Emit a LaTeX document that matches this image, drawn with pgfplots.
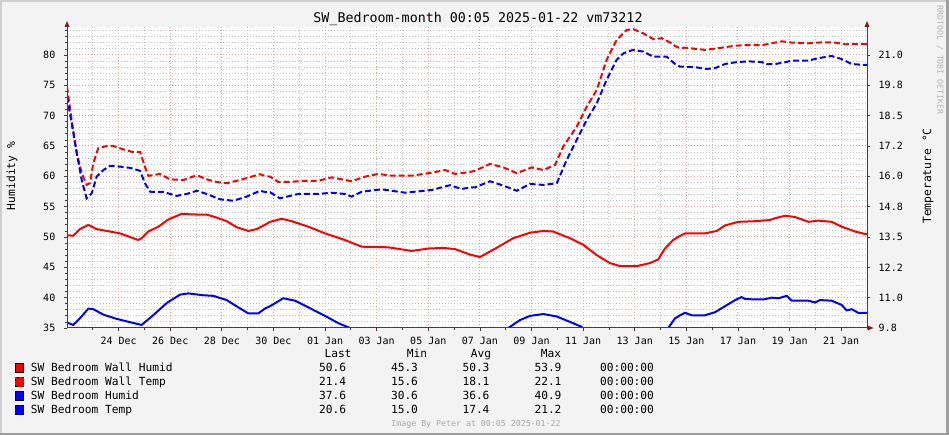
\documentclass[border=0pt]{standalone}
\usepackage{fontspec}
\setmainfont{DejaVu Sans Mono}
\setmonofont{DejaVu Sans Mono}
\usepackage{pgfplots}
\pgfplotsset{compat=1.18}
\definecolor{bgc}{HTML}{F3F3F3}
\definecolor{shadea}{HTML}{CFCFCF}
\definecolor{shadeb}{HTML}{9E9E9E}
\definecolor{mgrid}{HTML}{F0A0A0}
\definecolor{ngrid}{HTML}{C4C4C4}
\definecolor{axisc}{HTML}{404040}
\definecolor{arrowc}{HTML}{7F1F1F}
\definecolor{faint}{HTML}{A8A8A8}
\newcommand{\lgfont}{\fontsize{8.4}{10}\selectfont}
\newcommand{\tkfont}{\fontsize{7.5}{9}\selectfont}

\pgfplotstableread{
d h
0 50.3
0.24 50.2
0.50 51.3
0.83 52.0
1.15 51.3
1.54 51.0
2.05 50.6
2.44 50.0
2.76 49.5
2.89 49.8
3.15 50.9
3.54 51.7
3.93 52.9
4.44 53.8
5.03 53.7
5.41 53.7
5.80 53.2
6.19 52.6
6.58 51.6
7.03 51.0
7.35 51.3
7.67 52.0
7.87 52.5
8.32 53.0
8.71 52.6
9.35 51.7
10.00 50.6
10.77 49.5
11.42 48.4
12.45 48.3
13.36 47.7
14.00 48.1
14.58 48.2
15.04 48.0
15.62 47.1
15.81 46.9
16.00 46.7
16.52 47.9
17.29 49.8
17.94 50.7
18.46 51.0
18.84 50.9
19.49 49.8
20.01 48.7
20.53 47.0
21.04 45.7
21.43 45.2
22.08 45.2
22.59 45.7
22.91 46.3
23.17 48.1
23.49 49.5
23.76 50.2
23.95 50.6
24.34 50.6
24.72 50.6
25.18 51.0
25.50 51.9
26.01 52.5
26.66 52.6
27.24 52.8
27.44 53.1
27.82 53.5
28.21 53.3
28.73 52.5
29.11 52.7
29.63 52.5
30.02 51.7
30.54 50.9
30.92 50.5
31 50.5
}\wallhumid

\pgfplotstableread{
d h
0 35.9
0.24 35.5
0.50 36.6
0.83 38.2
1.02 38.1
1.41 37.2
1.93 36.5
2.31 36.1
2.89 35.5
3.34 37.1
3.86 39.1
4.38 40.5
4.70 40.7
5.28 40.4
5.67 40.3
6.19 39.6
6.64 38.4
7.03 37.4
7.41 37.4
7.67 38.2
7.87 38.6
8.38 39.9
8.84 39.5
9.35 38.4
10.00 37.0
10.51 35.8
10.97 35.0
11.5 34.2
12.5 33.9
13.4 33.4
14.0 33.6
15.0 33.4
15.8 32.6
16.0 32.4
16.5 33.5
17.10 35.0
17.55 36.3
17.94 37.0
18.46 37.3
18.98 36.9
19.49 36.0
19.94 35.2
20.5 32.4
21.0 31.1
21.5 30.6
22.0 30.6
22.6 31.1
22.9 31.7
23.17 33.6
23.30 35.0
23.56 36.6
23.76 37.1
23.95 37.5
24.21 37.1
24.72 37.1
25.11 37.6
25.50 38.6
25.89 39.6
26.14 40.1
26.27 39.8
26.66 39.7
26.98 39.7
27.31 40.0
27.57 39.9
27.89 40.3
28.08 39.5
28.73 39.5
28.99 39.2
29.18 39.6
29.63 39.5
30.02 38.8
30.21 37.9
30.41 38.1
30.66 37.5
30.92 37.5
31 37.5
}\humid

\pgfplotstableread{
d t
0 19.70
0.18 18.34
0.38 16.97
0.57 16.15
0.76 15.67
0.89 15.74
1.02 16.56
1.21 17.17
1.54 17.27
1.79 17.27
2.18 17.13
2.51 17.03
2.83 17.03
3.02 16.42
3.15 16.04
3.60 16.12
3.99 15.90
4.51 15.87
5.03 16.07
5.41 15.90
5.80 15.79
6.19 15.74
6.70 15.87
7.48 16.11
7.67 16.04
7.87 16.01
8.19 15.79
8.58 15.79
9.22 15.84
9.74 15.84
10.26 15.98
11.03 15.82
11.55 16.01
12.06 16.12
12.58 16.05
13.36 16.05
14.13 16.17
14.65 16.28
15.04 16.12
15.62 16.20
15.81 16.25
16.39 16.53
16.91 16.39
17.43 16.15
18.01 16.39
18.46 16.28
18.91 16.49
19.23 17.24
19.75 18.06
20.14 18.88
20.53 19.57
20.91 20.80
21.30 21.62
21.69 22.03
21.94 22.06
22.33 21.89
22.72 21.65
23.05 21.69
23.43 21.48
23.56 21.37
23.76 21.28
23.95 21.30
24.72 21.21
25.24 21.28
25.89 21.38
26.40 21.41
26.92 21.40
27.44 21.51
27.70 21.56
28.08 21.51
28.73 21.48
29.25 21.52
29.76 21.51
30.15 21.44
30.92 21.45
31 21.45
}\walltemp

\pgfplotstableread{
d t
0 19.29
0.18 18.20
0.38 16.97
0.57 15.87
0.76 15.12
0.96 15.33
1.15 16.01
1.41 16.28
1.67 16.45
2.05 16.42
2.44 16.37
2.83 16.25
3.02 15.74
3.22 15.39
3.73 15.38
4.25 15.22
4.64 15.30
5.03 15.43
5.41 15.30
5.93 15.08
6.44 15.02
6.96 15.19
7.48 15.43
7.67 15.38
7.87 15.37
8.25 15.12
8.96 15.30
9.74 15.30
10.26 15.35
10.77 15.30
11.03 15.19
11.42 15.39
12.19 15.49
13.10 15.35
14.13 15.46
14.84 15.66
15.29 15.50
15.62 15.57
15.81 15.57
16.39 15.82
16.91 15.64
17.43 15.43
17.94 15.71
18.46 15.67
18.98 15.74
19.36 16.69
19.75 17.51
20.14 18.34
20.53 19.02
20.91 19.98
21.30 20.80
21.56 21.07
21.94 21.21
22.33 21.14
22.72 20.93
23.24 20.93
23.56 20.63
23.76 20.52
23.95 20.52
24.34 20.50
24.79 20.43
25.11 20.46
25.50 20.63
25.89 20.70
26.40 20.74
26.92 20.71
27.11 20.63
27.44 20.63
27.82 20.70
28.08 20.77
28.73 20.77
29.11 20.87
29.63 20.96
30.02 20.83
30.41 20.63
30.92 20.59
31 20.59
}\temp

\begin{document}
\begin{tikzpicture}
\begin{scope}[x=0.75pt,y=0.75pt]
\path[use as bounding box] (0,0) rectangle (949,435);
\fill[bgc] (0,0) rectangle (949,435);
\fill[shadea] (0,433) rectangle (949,435);
\fill[shadea] (0,0) rectangle (2,435);
\fill[shadeb] (0,0) rectangle (949,2);
\fill[shadeb] (946,0) rectangle (949,435);
\end{scope}

\begin{axis}[
  at={(50.25pt,80.25pt)}, anchor=south west,
  scale only axis, width=600pt, height=225.75pt,
  xmin=0, xmax=31, ymin=35, ymax=84.615,
  axis background/.style={fill=white},
  axis line style={draw=none},
  xtick={2,4,...,30},
  xticklabels={24 Dec,26 Dec,28 Dec,30 Dec,01 Jan,03 Jan,05 Jan,07 Jan,09 Jan,11 Jan,13 Jan,15 Jan,17 Jan,19 Jan,21 Jan},
  minor xtick={1,3,...,29},
  ytick={35,40,...,80},
  minor ytick={36,37,38,39,41,42,43,44,46,47,48,49,51,52,53,54,56,57,58,59,61,62,63,64,66,67,68,69,71,72,73,74,76,77,78,79,81,82,83,84},
  grid=both,
  major grid style={mgrid, line width=0.75pt, dash pattern=on 0.75pt off 1.5pt},
  minor grid style={ngrid, line width=0.75pt, dash pattern=on 0.75pt off 1.5pt},
  tick align=outside, major tick length=2.25pt, minor tick length=1.5pt,
  tick style={axisc, line width=0.6pt},
  xtick pos=bottom, ytick pos=left,
  ticklabel style={font=\tkfont},
  /pgf/number format/assume math mode=true,
  xticklabel style={yshift=-1pt},
  yticklabel style={xshift=-3pt},
  legend style={at={(axis description cs:-0.065,-0.1096)}, anchor=north west,
    draw=none, fill=none, inner sep=0pt, outer sep=0pt, row sep=0pt, column sep=5.4pt,
    font=\lgfont, nodes={inner sep=0pt, minimum height=10.5pt}},
  legend cell align=left,
]
\addplot[red, line width=1.5pt, no markers, forget plot] table[x=d,y=h] {\wallhumid};
\addplot[blue, line width=1.5pt, no markers, forget plot] table[x=d,y=h] {\humid};
\addlegendimage{legend image code/.code={\filldraw[fill=red,draw=black,line width=0.6pt] (0pt,-3.4pt) rectangle (6pt,3.4pt);}}
\addlegendentry{SW Bedroom Wall Humid}
\addlegendimage{legend image code/.code={\fill[red] (0pt,-3.4pt) rectangle (6pt,3.4pt);\draw[black,line width=0.6pt,dash pattern=on 1.5pt off 2.5pt] (0pt,-3.4pt) rectangle (6pt,3.4pt);}}
\addlegendentry{SW Bedroom Wall Temp}
\addlegendimage{legend image code/.code={\filldraw[fill=blue,draw=black,line width=0.6pt] (0pt,-3.4pt) rectangle (6pt,3.4pt);}}
\addlegendentry{SW Bedroom Humid}
\addlegendimage{legend image code/.code={\fill[blue] (0pt,-3.4pt) rectangle (6pt,3.4pt);\draw[black,line width=0.6pt,dash pattern=on 1.5pt off 2.5pt] (0pt,-3.4pt) rectangle (6pt,3.4pt);}}
\addlegendentry{SW Bedroom Temp}
\end{axis}

\begin{axis}[
  at={(50.25pt,80.25pt)}, anchor=south west,
  scale only axis, width=600pt, height=225.75pt,
  xmin=0, xmax=31, ymin=9.8, ymax=22.149,
  hide x axis, axis y line*=right,
  axis line style={draw=none},
  ytick={9.8,11.0444,12.2889,13.5333,14.7778,16.0222,17.2667,18.5111,19.7556,21.0},
  yticklabels={9.8,11.0,12.2,13.5,14.8,16.0,17.2,18.5,19.8,21.0},
  tick align=outside, major tick length=2.25pt,
  tick style={axisc, line width=0.6pt},
  ticklabel style={font=\tkfont},
  yticklabel style={xshift=3pt},
]
\addplot[red, line width=1.5pt, no markers, dash pattern=on 4.5pt off 2.25pt] table[x=d,y=t] {\walltemp};
\addplot[blue, line width=1.5pt, no markers, dash pattern=on 4.5pt off 2.25pt] table[x=d,y=t] {\temp};
\end{axis}

\begin{scope}[x=0.75pt,y=0.75pt]
% axis lines and arrows
\draw[axisc, line width=0.75pt] (67,106.5) -- (67,410);
\draw[axisc, line width=0.75pt] (867,106.5) -- (867,410);
\draw[axisc, line width=0.75pt] (66.5,107) -- (869,107);
\fill[arrowc] (67,414) -- (64.5,408) -- (69.5,408) -- cycle;
\fill[arrowc] (867,414) -- (864.5,408) -- (869.5,408) -- cycle;
\fill[arrowc] (873.5,107) -- (867.5,104.5) -- (867.5,109.5) -- cycle;
% title and labels
\node[font=\fontsize{10}{12}\selectfont] at (478,416) {SW\_Bedroom-month 00:05 2025-01-22 vm73212};
\node[font=\fontsize{8.5}{10}\selectfont, rotate=90] at (12,259) {Humidity \%};
\node[font=\fontsize{8.5}{10}\selectfont, rotate=90] at (928,259) {Temperature °C};
\node[font=\fontsize{6.2}{7}\selectfont, text=faint!85, rotate=-90] at (940,375) {RRDTOOL / TOBI OETIKER};
% legend statistics
\begin{scope}[every node/.style={font=\lgfont, inner sep=0pt, anchor=base}]
\node at (338,77) {Last};
\node at (417,77) {Min};
\node at (481,77) {Avg};
\node at (551,77) {Max};
\node at (332.6,63) {50.6}; \node at (404.5,63) {45.3}; \node at (476,63) {50.3}; \node at (548,63) {53.9}; \node at (627,63) {00:00:00};
\node at (332.6,49) {21.4}; \node at (404.5,49) {15.6}; \node at (476,49) {18.1}; \node at (548,49) {22.1}; \node at (627,49) {00:00:00};
\node at (332.6,35) {37.6}; \node at (404.5,35) {30.6}; \node at (476,35) {36.6}; \node at (548,35) {40.9}; \node at (627,35) {00:00:00};
\node at (332.6,21) {20.6}; \node at (404.5,21) {15.0}; \node at (476,21) {17.4}; \node at (548,21) {21.2}; \node at (627,21) {00:00:00};
\end{scope}
\node[font=\fontsize{6.2}{7}\selectfont, text=faint] at (476,11) {Image By Peter at 00:05 2025-01-22};
\end{scope}
\end{tikzpicture}
\end{document}
